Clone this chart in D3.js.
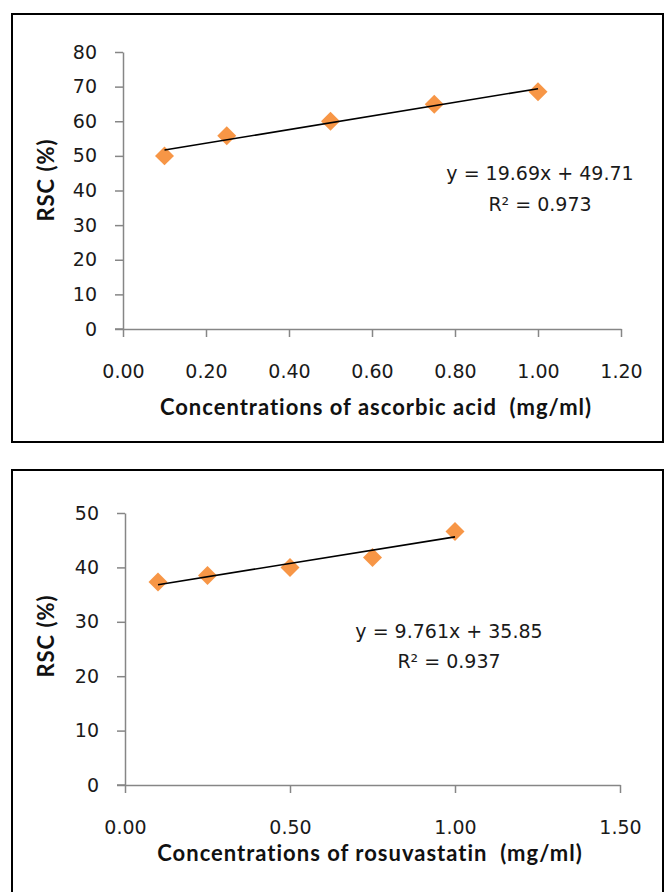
<!DOCTYPE html>
<html><head><meta charset="utf-8">
<script src="https://cdn.jsdelivr.net/npm/d3@7"></script>
<style>body{margin:0;background:#fff}svg{display:block}</style>
</head><body>
<svg id="c" width="666" height="892"></svg>
<script>
// ---- data ----
const conc1 = [0.10, 0.25, 0.50, 0.75, 1.00];
const rsc1  = [50.0, 55.8, 60.0, 64.9, 68.5];
const trend1 = {slope: 19.69, intercept: 49.71, r2: "0.973"};
const xTicks1 = [0, 0.2, 0.4, 0.6, 0.8, 1.0, 1.2];
const yTicks1 = [0, 10, 20, 30, 40, 50, 60, 70, 80];
const xTitle1 = "Concentrations of ascorbic acid\u00a0 (mg/ml)";

const conc2 = [0.10, 0.25, 0.50, 0.75, 1.00];
const rsc2  = [37.3, 38.5, 40.0, 41.8, 46.6];
const trend2 = {slope: 9.761, intercept: 35.85, r2: "0.937"};
const xTicks2 = [0, 0.5, 1.0, 1.5];
const yTicks2 = [0, 10, 20, 30, 40, 50];
const xTitle2 = "Concentrations of rosuvastatin\u00a0 (mg/ml)";
const yTitle = "RSC (%)";

const svg = d3.select("#c");
const tickFont = "'DejaVu Sans', Verdana, sans-serif";
const titleFont = "Lato, 'Open Sans', sans-serif";

function panel(cfg) {
  const g = svg.append("g");
  g.append("rect").attr("x", 12).attr("y", cfg.frameTop).attr("width", 651)
    .attr("height", cfg.frameH).attr("fill", "none").attr("stroke", "#000").attr("stroke-width", 2);

  const x = d3.scaleLinear().domain([0, cfg.xMax]).range([cfg.x0, cfg.x1]);
  const y = d3.scaleLinear().domain([0, cfg.yMax]).range([cfg.y0, cfg.y1]);

  const ya = g.append("g").attr("transform", `translate(${cfg.x0},0)`)
    .call(d3.axisLeft(y).tickValues(cfg.yTicks).tickSize(8).tickSizeOuter(0).tickPadding(18).tickFormat(d3.format("d")));
  const xa = g.append("g").attr("transform", `translate(0,${cfg.y0})`)
    .call(d3.axisBottom(x).tickValues(cfg.xTicks).tickSize(8).tickSizeOuter(0).tickPadding(cfg.xPad).tickFormat(d3.format(".2f")));
  [ya, xa].forEach(a => {
    a.selectAll("path,line").attr("stroke", "#868686").attr("stroke-width", 1.5);
    a.selectAll("text").attr("font-family", tickFont).attr("font-size", 19).attr("fill", "#1a1a1a");
  });
  xa.append("line").attr("x1", cfg.x0 - 8).attr("x2", cfg.x0).attr("y1", 0).attr("y2", 0)
    .attr("stroke", "#868686").attr("stroke-width", 1.5);

  // markers (diamonds)
  const sym = d3.symbol().type(d3.symbolSquare).size(180);
  g.append("g").selectAll("path").data(cfg.conc.map((c, i) => [c, cfg.rsc[i]]))
    .join("path").attr("d", sym)
    .attr("transform", d => `translate(${x(d[0])},${y(d[1])}) rotate(45)`)
    .attr("fill", "#F79646");

  // trendline on top
  const xs = d3.extent(cfg.conc);
  g.append("line")
    .attr("x1", x(xs[0])).attr("y1", y(cfg.trend.intercept + cfg.trend.slope * xs[0]))
    .attr("x2", x(xs[1])).attr("y2", y(cfg.trend.intercept + cfg.trend.slope * xs[1]))
    .attr("stroke", "#000").attr("stroke-width", 1.6);

  // equation
  const eq = g.append("text").attr("font-family", tickFont).attr("font-size", 19)
    .attr("fill", "#1a1a1a").attr("text-anchor", "middle");
  eq.append("tspan").attr("x", cfg.eqX).attr("y", cfg.eqY)
    .text(`y = ${cfg.trend.slope}x + ${cfg.trend.intercept}`);
  eq.append("tspan").attr("x", cfg.eqX).attr("y", cfg.eqY + cfg.eqDy)
    .text("R\u00b2 = " + cfg.trend.r2);

  // titles
  g.append("text").attr("x", cfg.titleX).attr("y", cfg.titleY)
    .attr("text-anchor", "middle").attr("font-family", titleFont).attr("font-weight", "bold")
    .attr("font-size", 22).attr("letter-spacing", 1).attr("fill", "#111").text(cfg.xTitle);
  g.append("text").attr("transform", `translate(54,${cfg.yTitleY}) rotate(-90)`)
    .attr("text-anchor", "middle").attr("font-family", titleFont).attr("font-weight", "bold")
    .attr("font-size", 22).attr("letter-spacing", 1).attr("fill", "#111").text(yTitle);
}

panel({frameTop: 14, frameH: 428, x0: 123, x1: 621, y0: 329, y1: 52,
  xMax: 1.2, yMax: 80, xTicks: xTicks1, yTicks: yTicks1, xPad: 28,
  conc: conc1, rsc: rsc1, trend: trend1, eqX: 540, eqY: 180, eqDy: 31,
  xTitle: xTitle1, titleX: 376, titleY: 415, yTitleY: 180});

panel({frameTop: 470, frameH: 440, x0: 125, x1: 620, y0: 785, y1: 513,
  xMax: 1.5, yMax: 50, xTicks: xTicks2, yTicks: yTicks2, xPad: 28,
  conc: conc2, rsc: rsc2, trend: trend2, eqX: 449, eqY: 638, eqDy: 30,
  xTitle: xTitle2, titleX: 370, titleY: 861, yTitleY: 636});
</script>
</body></html>
